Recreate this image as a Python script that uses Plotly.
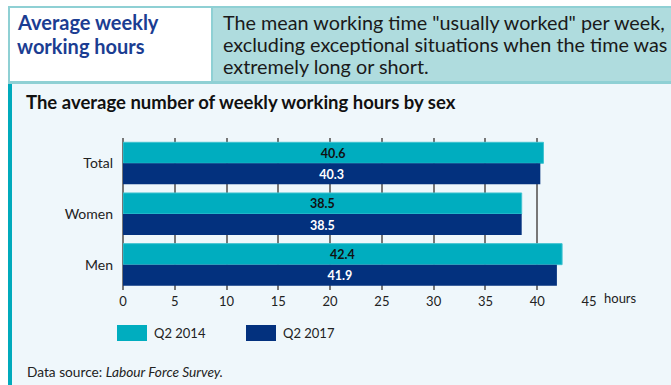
import plotly.graph_objects as go

# Data
categories = ["Total", "Women", "Men"]
series_names = ["Q2 2014", "Q2 2017"]
hours_2014 = [40.6, 38.5, 42.4]
hours_2017 = [40.3, 38.5, 41.9]
tick_values = [0, 5, 10, 15, 20, 25, 30, 35, 40, 45]
tick_labels = ["0", "5", "10", "15", "20", "25", "30", "35", "40", "45"]
header_title = ["Average weekly", "working hours"]
header_note = ["The mean working time \"usually worked\" per week,",
               "excluding exceptional situations when the time was",
               "extremely long or short."]

# Styling
W, H = 671, 385
L, R, T, B = 123, 589, 138, 290
CYAN = "#00adbf"
NAVY = "#03317e"
FONT = "Lato"


def px(x):
    return (x - L) / (R - L)


def py(y):
    return (B - y) / (B - T)


def rect(x0, y0, x1, y1, fill, line=None, lw=0):
    return dict(type="rect", xref="paper", yref="paper",
                x0=px(x0), x1=px(x1), y0=py(y1), y1=py(y0),
                fillcolor=fill, line=dict(color=line or fill, width=lw),
                layer="below")


def label(text, x, y, size, color="#222222", weight=400, style="normal"):
    return dict(text=text, xref="paper", yref="paper", x=px(x), y=py(y),
                xanchor="left", yanchor="middle", align="left", showarrow=False,
                font=dict(family=FONT, size=size, color=color, weight=weight,
                          style=style))


fig = go.Figure()
fig.add_trace(go.Bar(
    y=categories, x=hours_2014, name=series_names[0], orientation="h",
    marker=dict(color=CYAN, line=dict(color="#3fc3d0", width=1)),
    texttemplate="%{x:.1f}", textposition="inside", insidetextanchor="middle",
    textfont=dict(family=FONT, size=15, color="#111111", weight=700),
    showlegend=False,
))
fig.add_trace(go.Bar(
    y=categories, x=hours_2017, name=series_names[1], orientation="h",
    marker=dict(color=NAVY, line=dict(color=NAVY, width=0)),
    texttemplate="%{x:.1f}", textposition="inside", insidetextanchor="middle",
    textfont=dict(family=FONT, size=15, color="#ffffff", weight=700),
    showlegend=False,
))

shapes = [
    # page background and side bar
    rect(8, 83, W, H, "#eff7fb"),
    rect(8, 83, 12, H, "#00aabc"),
    # header boxes
    rect(8, 6, W + 2, 84, "#8fd0d4"),
    rect(10, 8, 211, 81, "#ffffff"),
    rect(213, 8, W + 2, 81, "#afdcde"),
]

# legend swatches
swatch_x = [117, 246]
for i, col in enumerate([CYAN, NAVY]):
    shapes.append(dict(type="rect", xref="paper", yref="paper",
                       x0=px(swatch_x[i]), x1=px(swatch_x[i] + 30),
                       y0=py(341), y1=py(325), fillcolor=col,
                       line=dict(color=col, width=0)))

annotations = []
for i, line in enumerate(header_title):
    annotations.append(label(line, 15, 22 + 24 * i, 20, color="#1b3d92",
                             weight=700))
for i, line in enumerate(header_note):
    annotations.append(label(line, 221, 22 + 22 * i, 19.8, color="#1a1a1a"))
annotations += [
    label("The average number of weekly working hours by sex",
          24, 102, 18.5, color="#111111", weight=700),
    label("hours", 602, 298, 13),
    label("Data source: <i>Labour Force Survey.</i>", 25, 371, 13.7),
]
for i, name in enumerate(series_names):
    annotations.append(label(name, swatch_x[i] + 35, 333, 13))

fig.update_layout(
    width=W, height=H, autosize=False,
    margin=dict(l=L, r=W - R, t=T, b=H - B, pad=0),
    paper_bgcolor="#ffffff", plot_bgcolor="rgba(0,0,0,0)",
    barmode="group", bargap=0.17, bargroupgap=0,
    shapes=shapes, annotations=annotations,
    font=dict(family=FONT, size=13, color="#222222"),
    xaxis=dict(range=[0, 45], tickvals=tick_values, ticktext=tick_labels,
               showgrid=True, gridcolor="#777777", gridwidth=2,
               zeroline=True, zerolinecolor="#777777", zerolinewidth=2,
               showline=False, ticks="", ticklabelstandoff=2,
               tickfont=dict(family=FONT, size=13, color="#222222")),
    yaxis=dict(range=[2.5, -0.5], showgrid=False, zeroline=False,
               ticks="", ticklabelstandoff=9,
               tickfont=dict(family=FONT, size=14, color="#222222")),
)

fig.write_html("out.html")
